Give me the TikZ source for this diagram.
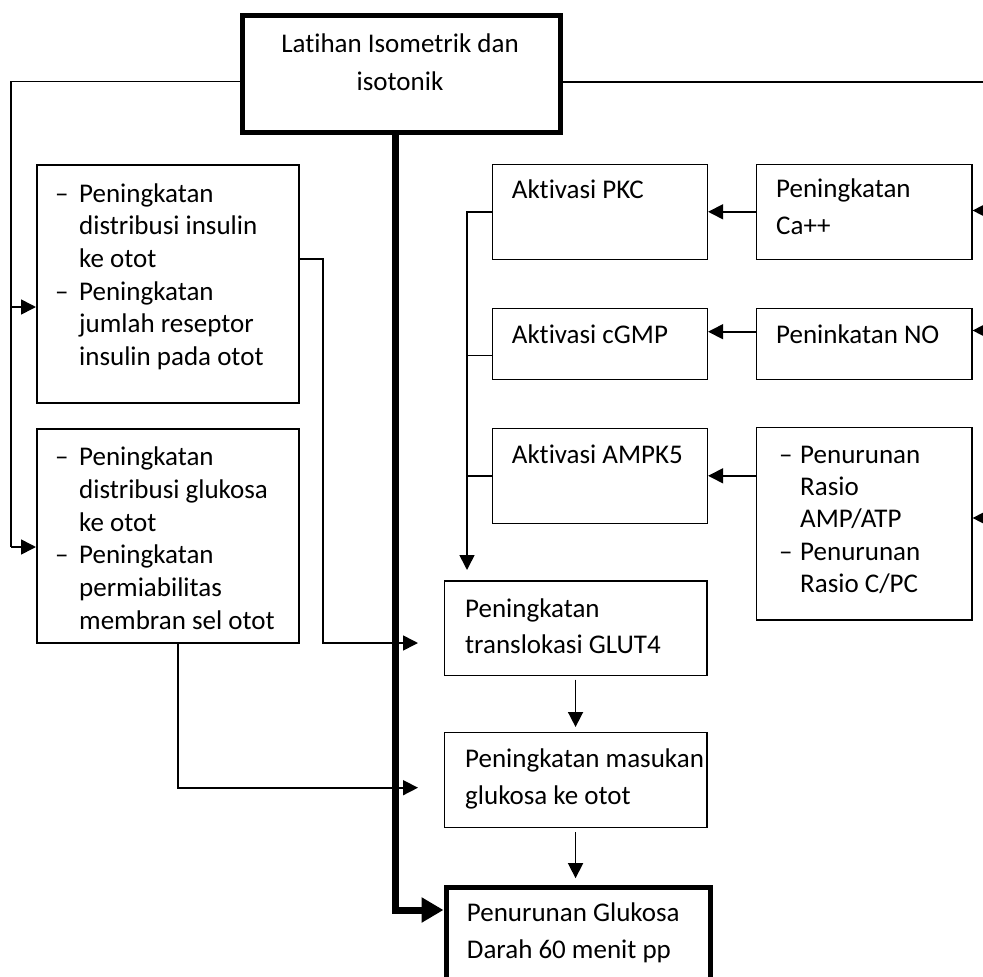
\documentclass[tikz,border=0pt]{standalone}
\usepackage{fontspec}
\setmainfont{Carlito}[Ligatures=NoCommon]
\usetikzlibrary{arrows.meta,calc}
\newcommand\dsh{\makebox[24pt][l]{–}}
\newcommand\dshb{\makebox[21pt][l]{–}}
\tikzset{
  box/.style={draw, line width=1.6pt, rectangle, inner sep=0pt, anchor=north west},
  thickbox/.style={box, line width=5pt},
  txt/.style={inner sep=0pt, anchor=base west, font=\fontsize{27}{37}\selectfont},
  listtxt/.style={txt, font=\fontsize{27}{32.7}\selectfont},
  conn/.style={line width=1.6pt},
  arr/.style={conn, -{Triangle[length=15pt,width=15pt]}},
  bigarr/.style={line width=7pt, line join=miter, -{Triangle[length=22pt,width=24pt]}}
}
\begin{document}
\begin{tikzpicture}[x=1pt,y=-1pt]
\useasboundingbox (0,0) rectangle (983,977);
% boxes
\node[thickbox, minimum width=318pt, minimum height=117pt] (T) at (239.5,12.5) {};
\node[box, minimum width=262pt, minimum height=238pt] (B1) at (36,164) {};
\node[box, minimum width=262pt, minimum height=214pt] (B2) at (36,428) {};
\node[box, minimum width=215pt, minimum height=95pt] (PKC) at (491.5,163.5) {};
\node[box, minimum width=215.5pt, minimum height=95pt] (Ca) at (755.5,163.5) {};
\node[box, minimum width=215pt, minimum height=71pt] (cGMP) at (491.5,307.5) {};
\node[box, minimum width=215.5pt, minimum height=71pt] (NO) at (755.5,307.5) {};
\node[box, minimum width=215pt, minimum height=95pt] (AMPK) at (491.5,427.5) {};
\node[box, minimum width=215.5pt, minimum height=192.5pt] (Pen) at (755.5,426.5) {};
\node[box, minimum width=262.5pt, minimum height=94.5pt] (GLUT) at (443.5,580) {};
\node[box, minimum width=262.5pt, minimum height=95pt] (Mas) at (443.5,731.5) {};
\node[thickbox, minimum width=264pt, minimum height=102pt] (Glu) at (443.5,885.2) {};
% texts
\node[txt, anchor=base, font=\fontsize{27}{37.6}\selectfont] (tT) at (400,52.5)
  {\begin{tabular}[t]{@{}c@{}}Latihan Isometrik dan\\isotonik\end{tabular}};
\node[listtxt] (tB1) at (55,202)
  {\begin{tabular}[t]{@{}l@{}l@{}}\dsh&Peningkatan\\&distribusi insulin\\&ke otot\\
   \dsh&Peningkatan\\&jumlah reseptor\\&insulin pada otot\end{tabular}};
\node[listtxt] (tB2) at (55,465.7)
  {\begin{tabular}[t]{@{}l@{}l@{}}\dsh&Peningkatan\\&distribusi glukosa\\&ke otot\\
   \dsh&Peningkatan\\&permiabilitas\\&membran sel otot\end{tabular}};
\node[txt] (tPKC) at (511.7,198) {Aktivasi PKC};
\node[txt] (tCa) at (776,197.7)
  {\begin{tabular}[t]{@{}l@{}}Peningkatan\\Ca++\end{tabular}};
\node[txt] (tcGMP) at (511.7,343) {Aktivasi cGMP};
\node[txt] (tNO) at (776,343) {Peninkatan NO};
\node[txt] (tAMPK) at (511.7,463) {Aktivasi AMPK5};
\node[listtxt, font=\fontsize{27}{32.4}\selectfont] (tPen) at (779,463)
  {\begin{tabular}[t]{@{}l@{}l@{}}\dshb&Penurunan\\&Rasio\\&AMP/ATP\\
   \dshb&Penurunan\\&Rasio C/PC\end{tabular}};
\node[txt, font=\fontsize{27}{35.5}\selectfont] (tGLUT) at (465,617.5)
  {\begin{tabular}[t]{@{}l@{}}Peningkatan\\translokasi GLUT4\end{tabular}};
\node[txt] (tMas) at (465,767)
  {\begin{tabular}[t]{@{}l@{}}Peningkatan masukan\\glukosa ke otot\end{tabular}};
\node[txt, font=\fontsize{27}{36.6}\selectfont] (tGlu) at (466.7,921.7)
  {\begin{tabular}[t]{@{}l@{}}Penurunan Glukosa\\Darah 60 menit pp\end{tabular}};
% coordinates
\coordinate (L1) at (11,81.5);
\coordinate (L2) at (11,307);
\coordinate (L3) at (11,547);
\coordinate (R1) at (995,82);
\coordinate (R2) at (995,210.5);
\coordinate (R3) at (995,330.5);
\coordinate (R4) at (995,518);
\coordinate (A2) at (740,331.7);
\coordinate (S2) at (467,355.3);
\coordinate (Vend) at (467,570);
\coordinate (C1) at (323,259);
\coordinate (G1) at (418,643);
\coordinate (C2) at (178,642);
\coordinate (G2) at (418,787.7);
\coordinate (K) at (395,910);
% thick connector
\draw[bigarr] (T.south -| K) -- (K) -- (Glu.west |- K);
% left feed
\draw[conn] (T.west |- L1) -- (L1) -- (L3);
\draw[arr] (L2) -- (B1.west |- L2);
\draw[arr] (L3) -- (B2.west |- L3);
% right feed
\draw[conn] (T.east |- R1) -- (R1) -- (R4);
\draw[arr] (R2) -- (Ca.east |- R2);
\draw[arr] (R3) -- (NO.east |- R3);
\draw[arr] (R4) -- (Pen.east |- R4);
% between right columns
\draw[arr] (Ca.west) -- (PKC.east);
\draw[arr] (NO.west |- A2) -- (cGMP.east |- A2);
\draw[arr] (Pen.west |- AMPK.east) -- (AMPK.east);
% collector line
\draw[arr] (PKC.west) -| (Vend);
\draw[conn] (cGMP.west |- S2) -- (S2);
\draw[conn] (AMPK.west) -- (AMPK.west -| S2);
% left boxes to center
\draw[arr] (B1.east |- C1) -- (C1) |- (G1);
\draw[arr] (C2 |- B2.south) |- (G2);
% down arrows
\draw[arr] ([yshift=-3.5pt]GLUT.south) -- ([yshift=4.5pt]GLUT.south |- Mas.north);
\draw[arr] ([yshift=-4pt]Mas.south) -- ([yshift=7pt]Mas.south |- Glu.north);
\end{tikzpicture}
\end{document}
